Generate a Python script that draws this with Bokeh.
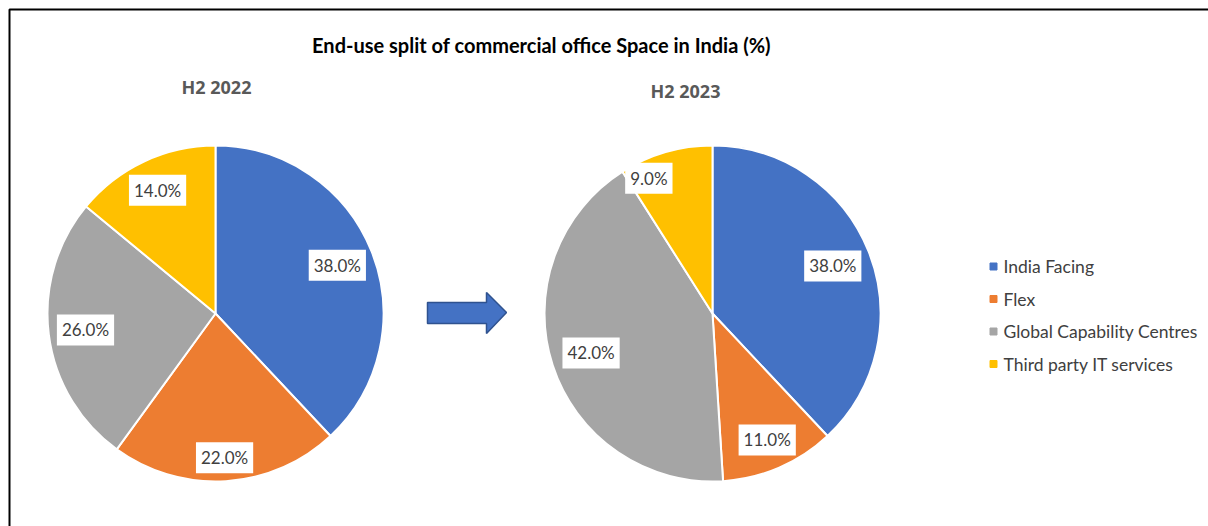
import math
from bokeh.plotting import figure
from bokeh.models import Range1d, ColumnDataSource
from bokeh.core.properties import value
from bokeh.embed import file_html
from bokeh.resources import INLINE

# ---- data ----
categories = ["India Facing", "Flex", "Global Capability Centres", "Third party IT services"]
colors = ["#4472C4", "#ED7D31", "#A5A5A5", "#FFC000"]
share_h2_2022 = [38.0, 22.0, 26.0, 14.0]
share_h2_2023 = [38.0, 11.0, 42.0, 9.0]
pie_titles = ["H2 2022", "H2 2023"]
chart_title = "End-use split of commercial office Space in India (%)"

# ---- layout helpers (reference pixel coords -> data coords) ----
W, H = 1208, 526
def X(x):
    return x
def Y(y):
    return H - y

p = figure(width=W, height=H, x_range=Range1d(0, W), y_range=Range1d(0, H),
           output_backend="svg", toolbar_location=None, min_border=0,
           x_axis_location=None, y_axis_location=None, outline_line_color=None)
p.grid.visible = False
p.background_fill_color = "white"
p.border_fill_color = "white"

LABEL_FONT = value("Lato")
R = 168

def draw_pie(cx, cy, values, label_frac, label_nudge):
    total = sum(values)
    starts, ends, lx, ly, labels = [], [], [], [], []
    cum = 0.0
    for v, f, nd in zip(values, label_frac, label_nudge):
        a0 = math.pi / 2 - 2 * math.pi * cum / total
        cum += v
        a1 = math.pi / 2 - 2 * math.pi * cum / total
        starts.append(a0)
        ends.append(a1)
        mid = (a0 + a1) / 2 + math.radians(nd)
        lx.append(cx + f * R * math.cos(mid))
        ly.append(cy + f * R * math.sin(mid))
        labels.append(f"{v:.1f}%")
    src = ColumnDataSource(dict(start=starts, end=ends, color=colors, lx=lx, ly=ly, label=labels))
    p.wedge(x=cx, y=cy, radius=R, start_angle="start", end_angle="end", direction="clock",
            fill_color="color", line_color="white", line_width=2, source=src)
    p.text(x="lx", y="ly", text="label", source=src, text_align="center", text_baseline="middle",
           text_font=LABEL_FONT, text_font_size="17px", text_color="#404040",
           background_fill_color="white", padding=5)

draw_pie(X(215), Y(313), share_h2_2022, [0.78, 0.86, 0.78, 0.81], [0, 0, 0, 0])
draw_pie(X(712), Y(313), share_h2_2023, [0.77, 0.82, 0.76, 0.89], [0, 0, 0, 9])

# headings
p.text(x=[X(216), X(685)], y=[Y(86), Y(90)], text=pie_titles, text_align="center",
       text_baseline="middle", text_font=value("Open Sans"), text_font_style="bold",
       text_font_size="18px", text_color="#595959")

# title
p.text(x=[X(541)], y=[Y(44)], text=[chart_title], text_align="center", text_baseline="middle",
       text_font=LABEL_FONT, text_font_style="bold", text_font_size="20px", text_color="#000000")

# arrow
ax = [427, 486, 486, 506, 486, 486, 427]
ay = [302, 302, 292, 312, 333, 323, 323]
p.patch(x=[X(v) for v in ax], y=[Y(v) for v in ay], fill_color="#4472C4",
        line_color="#2F528F", line_width=1.5)

# legend
ly = [Y(266 + 32.5 * i) for i in range(len(categories))]
p.scatter(x=[X(993)] * len(categories), y=ly, marker="square", size=7, color=colors)
p.text(x=[X(1003)] * len(categories), y=ly, text=categories, text_align="left",
       text_baseline="middle", text_font=LABEL_FONT, text_font_size="17.5px", text_color="#404040")

# border (left and top)
p.line(x=[X(9), X(9), W], y=[0, Y(9), Y(9)], line_color="black", line_width=2)

open("out.html", "w").write(file_html(p, INLINE))
